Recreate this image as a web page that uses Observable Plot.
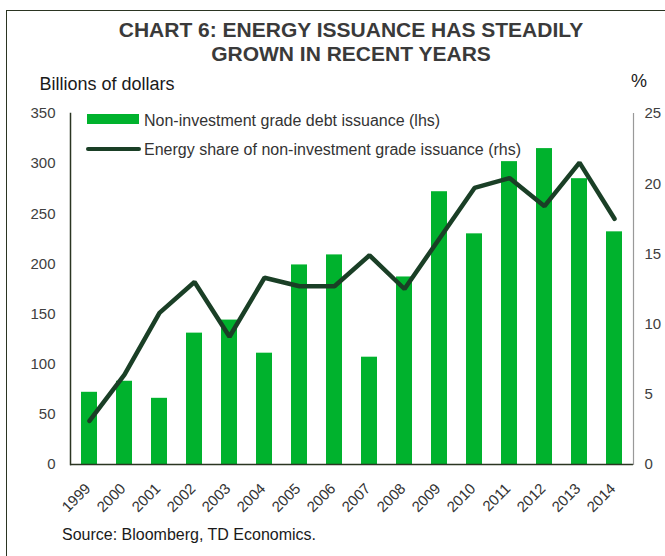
<!DOCTYPE html>
<html>
<head>
<meta charset="utf-8">
<script src="https://cdn.jsdelivr.net/npm/d3@7"></script>
<script src="https://cdn.jsdelivr.net/npm/@observablehq/plot@0.6"></script>
<style>
  html, body { margin: 0; padding: 0; background: #fff; }
  body { width: 665px; height: 556px; position: relative; overflow: hidden; font-family: "Liberation Sans", Arial, sans-serif; }
  .abs { position: absolute; white-space: nowrap; }
  #border { position: absolute; left: 6px; top: 10px; width: 720px; height: 620px; border: 1.5px solid #2b3522; box-sizing: border-box; }
  #title { left: 0; top: 18px; width: 702px; text-align: center; font-weight: bold; font-size: 21px; line-height: 24px; color: #3a3a3a; }
  .unit { font-size: 18px; line-height: 20px; color: #1a1a1a; }
  #source { left: 62px; top: 525.5px; font-size: 16px; line-height: 18px; color: #1a1a1a; }
  .legtext { font-size: 16px; line-height: 18px; color: #333; }
  #chart { position: absolute; left: 0; top: 62px; }
</style>
</head>
<body>
<div id="border"></div>
<div id="title" class="abs">CHART 6: ENERGY ISSUANCE HAS STEADILY<br>GROWN IN RECENT YEARS</div>
<div class="abs unit" style="left:39.5px; top:73.8px;">Billions of dollars</div>
<div class="abs unit" style="left:631px; top:70.8px;">%</div>
<div id="chart"></div>
<div class="abs" style="left:87px; top:114px; width:52px; height:10px; background:#00b22d;"></div>
<div class="abs legtext" style="left:144px; top:111.5px;">Non-investment grade debt issuance (lhs)</div>
<div class="abs" style="left:86px; top:146.5px; width:55px; height:4.5px; border-radius:2.25px; background:#1a3f26;"></div>
<div class="abs legtext" style="left:144px; top:140.5px;">Energy share of non-investment grade issuance (rhs)</div>
<div id="source" class="abs">Source: Bloomberg, TD Economics.</div>
<script>
const years = [1999, 2000, 2001, 2002, 2003, 2004, 2005, 2006, 2007, 2008, 2009, 2010, 2011, 2012, 2013, 2014];
const issuance = [72, 83, 66, 131, 144, 111, 199, 209, 107, 187, 272, 230, 302, 315, 285, 232];
const energyShare = [3.1, 6.4, 10.8, 13.0, 9.1, 13.3, 12.7, 12.7, 14.9, 12.5, 16.1, 19.7, 20.4, 18.4, 21.5, 17.5];
const leftTicks = [0, 50, 100, 150, 200, 250, 300, 350];
const rightTicks = [0, 5, 10, 15, 20, 25];

const leftMax = 350, rightMax = 25;
const k = leftMax / rightMax;

const rows = years.map((y, i) => ({year: y, issuance: issuance[i], share: energyShare[i]}));

const chart = Plot.plot({
  width: 665,
  height: 494,
  marginTop: 51,
  marginBottom: 92,
  marginLeft: 70,
  marginRight: 32,
  style: {fontFamily: "'Liberation Sans', Arial, sans-serif", fontSize: "15px", color: "#404040", background: "transparent"},
  x: {type: "band", domain: years, paddingInner: 0.545, paddingOuter: 0.27, axis: null},
  y: {domain: [0, leftMax]},
  marks: [
    Plot.barY(rows, {x: "year", y: "issuance", fill: "#00b22d"}),
    Plot.line(rows, {x: "year", y: d => d.share * k, stroke: "#1a3f26", strokeWidth: 4.5, strokeLinejoin: "miter", strokeLinecap: "round"}),
    Plot.ruleY([0], {stroke: "#2b3522", strokeWidth: 1.5}),
    Plot.frame({anchor: "left", stroke: "#2b3522", strokeWidth: 1.5}),
    Plot.frame({anchor: "right", stroke: "#999", strokeWidth: 1.2}),
    Plot.axisY(leftTicks, {anchor: "left", tickSize: 0, tickPadding: 15, fontSize: 15, fill: "#404040", label: null}),
    Plot.axisY(rightTicks.map(v => v * k), {anchor: "right", tickSize: 0, tickPadding: 11, fontSize: 15, fill: "#404040", label: null, tickFormat: d => String(Math.round(d / k))}),
    Plot.text(years, {x: d => d, text: d => String(d), frameAnchor: "bottom", dy: 25, dx: 2, rotate: -45, textAnchor: "end", lineAnchor: "bottom", fontSize: 15, fill: "#333"})
  ]
});
document.getElementById("chart").appendChild(chart);
</script>
</body>
</html>
